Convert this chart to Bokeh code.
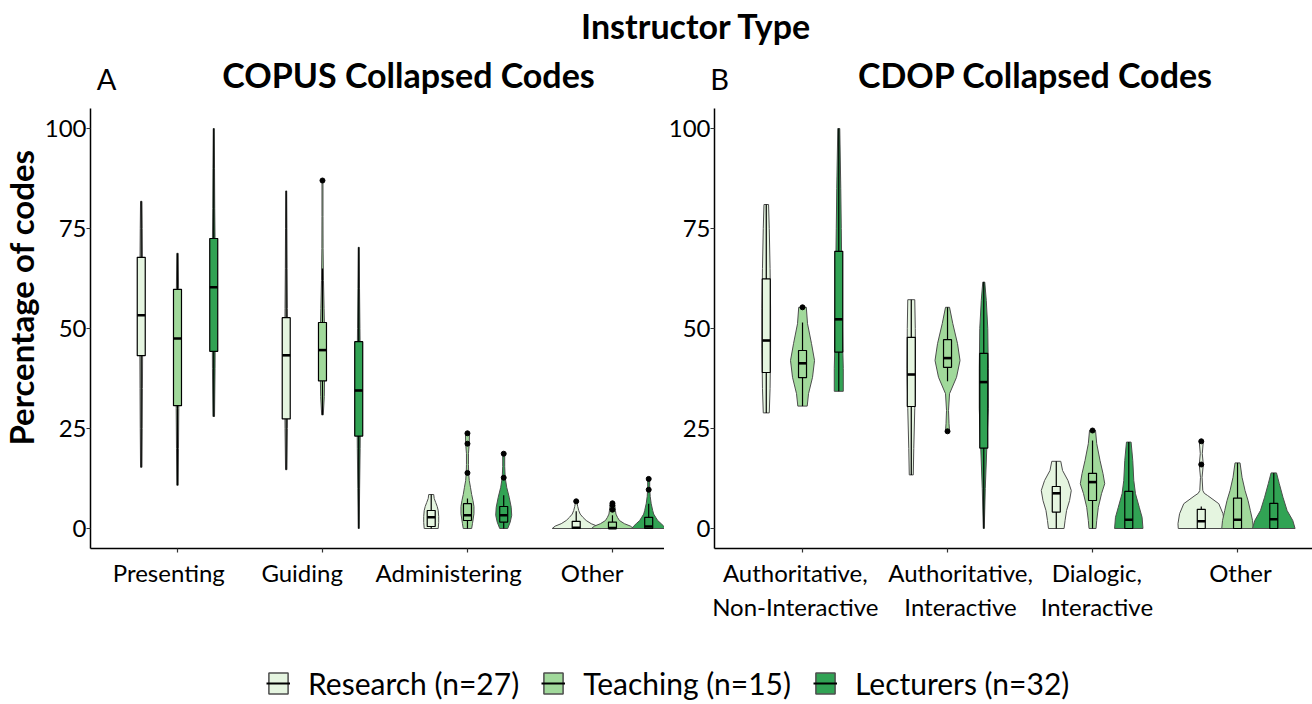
import math
from bokeh.plotting import figure
from bokeh.models import Range1d, FixedTicker, Label, Legend, LegendItem, LinearAxis
from bokeh.layouts import column, row
from bokeh.embed import file_html
from bokeh.resources import INLINE

FONT = "Lato"

# ---------------- data ----------------
instructors = ["Research (n=27)", "Teaching (n=15)", "Lecturers (n=32)"]
fill_colors = ["#e5f5e0", "#a1d99b", "#31a354"]

copus_categories = ["Presenting", "Guiding", "Administering", "Other"]
cdop_categories = ["Authoritative,\nNon-Interactive", "Authoritative,\nInteractive",
                   "Dialogic,\nInteractive", "Other"]
y_ticks = [0, 25, 50, 75, 100]

# box statistics per [category][instructor]: (lower whisker, Q1, median, Q3, upper whisker)
copus_box = [
    [(15.3, 43.2, 53.3, 67.8, 81.8), (10.8, 30.7, 47.5, 59.8, 68.8), (28.0, 44.3, 60.3, 72.5, 100.0)],
    [(14.7, 27.4, 43.3, 52.7, 84.4), (28.4, 36.9, 44.6, 51.5, 65.0), (0.0, 23.1, 34.5, 46.7, 70.3)],
    [(0.0, 0.5, 2.8, 4.5, 8.5), (0.0, 2.0, 3.3, 6.2, 7.5), (0.0, 1.6, 3.3, 5.5, 8.3)],
    [(0.0, 0.0, 0.2, 1.8, 4.3), (0.0, 0.0, 0.1, 1.6, 3.3), (0.0, 0.0, 0.5, 2.8, 6.2)],
]
copus_outliers = [
    [[], [], []],
    [[], [87.0], []],
    [[], [13.9, 21.2, 23.8], [12.7, 18.7]],
    [[6.8], [4.7, 5.8, 6.3], [9.7, 12.4]],
]
# violin profiles: values and kernel-density half widths
copus_violin_y = [
    [[15.3, 25, 35, 45, 55, 65, 75, 81.8], [10.8, 20, 30, 40, 50, 60, 68.8], [28, 40, 50, 60, 70, 80, 90, 100]],
    [[14.7, 25, 35, 45, 55, 65, 75, 84.4], [28.4, 33, 40, 47, 55, 62, 70, 78, 87], [0, 10, 20, 30, 40, 50, 60, 70.3]],
    [[0, 1.5, 3, 4.5, 5.5, 6.5, 7.5, 8.5],
     [0, 1.2, 3.7, 5.5, 7, 8.5, 10.3, 12, 13.9, 16, 18.7, 21.2, 23.8],
     [0, 1.6, 3.3, 5.3, 7.8, 10.3, 12.7, 15.5, 18.7]],
    [[0, 0.6, 1.2, 2, 2.8, 3.6, 4.5, 5.5, 6.2, 6.8],
     [0, 0.6, 1.2, 2, 2.8, 3.6, 4.5, 5.5, 6.6],
     [0, 0.6, 1.2, 2, 2.8, 3.6, 4.5, 6.2, 8, 10, 12.4]],
]
copus_violin_d = [
    [[0.7, 1.0, 1.2, 1.4, 1.4, 1.3, 1.0, 0.7], [0.7, 1.0, 1.3, 1.4, 1.4, 1.1, 0.7], [0.8, 1.3, 1.5, 1.6, 1.4, 1.0, 0.8, 0.5]],
    [[0.7, 1.2, 1.5, 1.5, 1.2, 0.9, 0.7, 0.5], [0.8, 1.8, 2.3, 2.3, 1.6, 1.0, 0.6, 0.5, 0.5], [0.5, 0.9, 1.4, 1.7, 1.6, 1.2, 0.8, 0.5]],
    [[7.0, 7.5, 7.5, 7.0, 6.0, 4.5, 3.0, 2.5],
     [4.2, 5.0, 6.5, 6.5, 5.5, 4.2, 3.0, 1.8, 1.2, 1.0, 1.0, 1.8, 2.0],
     [4.0, 6.5, 8.0, 7.5, 5.5, 3.0, 1.5, 1.0, 1.0]],
    [[24, 21, 15, 10, 6.7, 4.0, 2.5, 1.5, 1.0, 1.5],
     [21, 18, 12, 7, 5, 3.5, 3.0, 2.5, 1.5],
     [17, 15, 12.5, 9, 7, 5, 4, 2.5, 1.5, 1.0, 1.0]],
]

cdop_box = [
    [(28.9, 39.0, 47.0, 62.4, 81.0), (30.6, 37.7, 41.3, 44.5, 51.5), (34.3, 44.1, 52.3, 69.3, 100.0)],
    [(13.4, 30.5, 38.5, 47.8, 57.2), (36.8, 40.3, 42.6, 47.2, 55.3), (0.0, 20.1, 36.6, 43.8, 61.6)],
    [(0.0, 4.1, 8.8, 10.5, 16.8), (0.0, 7.0, 11.6, 13.8, 22.0), (0.0, 0.0, 2.2, 9.3, 21.6)],
    [(0.0, 0.0, 1.8, 4.8, 5.5), (0.0, 0.0, 2.2, 7.6, 16.4), (0.0, 0.0, 2.3, 6.3, 13.9)],
]
cdop_outliers = [
    [[], [55.3], []],
    [[], [24.3], []],
    [[], [24.5], []],
    [[16.0, 21.8], [], []],
]
cdop_violin_y = [
    [[28.9, 35, 45, 55, 65, 75, 81], [30.6, 33.7, 37.8, 42, 46.2, 51.2, 55.3], [34.3, 40, 45, 55, 65, 75, 85, 100]],
    [[13.4, 20, 30, 40, 50, 57.2], [24.3, 26.2, 29.5, 33.7, 37.8, 42, 46.2, 51.2, 55.3], [0, 10, 20, 30, 40, 50, 57, 61.6]],
    [[0, 2, 4.5, 7, 9.5, 12, 14.5, 16.8], [0, 2, 5.3, 8.7, 11.2, 13.7, 17, 21.2, 24.5], [0, 2.8, 5.3, 8.7, 12, 17, 21.6]],
    [[0, 1.2, 3.7, 6.2, 8.25, 8.8, 9.5, 12.8, 16, 18.7, 21.75], [0, 2, 4.5, 7, 9.5, 12.8, 16.4], [0, 2, 4.5, 7.8, 11.2, 13.9]],
]
cdop_violin_d = [
    [[3.0, 3.8, 4.3, 4.3, 3.8, 3.0, 2.3], [4.7, 6, 10, 12, 9, 5, 3.8], [4.5, 4.5, 4.0, 3.5, 3.0, 2.5, 2.0, 1.0]],
    [[2.0, 2.5, 3.5, 4.2, 4.0, 3.5], [2.0, 1.5, 1.0, 2.0, 9.0, 12.5, 10.0, 5.3, 2.0], [0.5, 1.5, 3.0, 4.5, 4.5, 4.0, 2.5, 1.0]],
    [[7.8, 8.8, 10.3, 13.3, 15, 11.7, 6.3, 4.5], [3.5, 4.2, 5.8, 9, 12.2, 10.5, 7.5, 4.2, 3.0], [14.2, 13.3, 10.5, 6.7, 5, 4, 2.3]],
    [[23, 23.3, 21.7, 17.5, 6.3, 3, 1.5, 0.8, 2, 1, 2], [15.8, 15, 12.8, 10.5, 7.5, 4.5, 2.5], [21.3, 19, 13.3, 9.2, 5.5, 2.7]],
]

# where the category labels sit along each axis (they are slightly off their ticks in the reference)
copus_label_pos = [0.94, 1.86, 2.87, 3.86]
cdop_label_pos = [0.95, 2.09, 3.03, 4.02]

# ---------------- styling ----------------
DODGE = [-0.25, 0.0, 0.25]
DENS_SCALE = 1.0 / 145.0      # density half width -> category units
BOX_HALF = 4.0 / 145.0
VIOLIN_LINE = "#4d4d4d"
ROW_H = 530


def style_axes(p, categories, label_pos):
    p.grid.visible = False
    p.outline_line_color = None
    xa = p.xaxis[0]
    xa.ticker = FixedTicker(ticks=[1, 2, 3, 4])
    xa.major_label_overrides = {1: "", 2: "", 3: "", 4: ""}
    xa.major_label_text_font_size = "2px"
    xa.major_label_standoff = 0
    ya = p.yaxis[0]
    ya.ticker = FixedTicker(ticks=y_ticks)
    ya.bounds = (-5, 105)
    ya.axis_label_standoff = 0
    for ax in (xa, ya):
        ax.axis_line_color = "black"
        ax.axis_line_width = 1.5
        ax.major_tick_line_color = "#333333"
        ax.major_tick_line_width = 1.2
        ax.major_tick_out = 4
        ax.major_tick_in = 0
        ax.minor_tick_line_color = None
    ya.major_label_text_font = FONT
    ya.major_label_text_color = "black"
    ya.major_label_text_font_size = "24px"
    ya.major_label_standoff = 0
    lab = LinearAxis(ticker=FixedTicker(ticks=label_pos),
                     major_label_overrides={pos: c for pos, c in zip(label_pos, categories)},
                     axis_line_color=None, major_tick_line_color=None, minor_tick_line_color=None,
                     major_tick_out=0, major_tick_in=0, major_label_standoff=5,
                     major_label_text_font=FONT, major_label_text_font_size="24px",
                     major_label_text_color="black")
    p.add_layout(lab, "below")


def draw_panel(p, box, outliers, vy, vd):
    for i in range(3):
        xs, ys = [], []
        for c in range(4):
            cx = c + 1 + DODGE[i]
            yy = vy[c][i]
            dd = vd[c][i]
            right = [cx + d * DENS_SCALE for d in dd]
            left = [cx - d * DENS_SCALE for d in dd]
            xs.append(right + left[::-1])
            ys.append(list(yy) + list(yy)[::-1])
        p.patches(xs=xs, ys=ys, fill_color=fill_colors[i], line_color=VIOLIN_LINE, line_width=1)
    for i in range(3):
        cxs = [c + 1 + DODGE[i] for c in range(4)]
        lo = [box[c][i][0] for c in range(4)]
        q1 = [box[c][i][1] for c in range(4)]
        med = [box[c][i][2] for c in range(4)]
        q3 = [box[c][i][3] for c in range(4)]
        hi = [box[c][i][4] for c in range(4)]
        p.segment(x0=cxs, y0=q3, x1=cxs, y1=hi, line_color="black", line_width=1.2)
        p.segment(x0=cxs, y0=lo, x1=cxs, y1=q1, line_color="black", line_width=1.2)
        p.quad(left=[x - BOX_HALF for x in cxs], right=[x + BOX_HALF for x in cxs],
               bottom=q1, top=q3, fill_color=fill_colors[i], line_color="black", line_width=1.2)
        p.segment(x0=[x - BOX_HALF for x in cxs], y0=med, x1=[x + BOX_HALF for x in cxs], y1=med,
                  line_color="black", line_width=2.6)
        ox, oy = [], []
        for c in range(4):
            for v in outliers[c][i]:
                ox.append(cxs[c])
                oy.append(v)
        if ox:
            p.scatter(x=ox, y=oy, marker="circle", size=5, fill_color="black", line_color="black")


def blank(width, height, xr, yr):
    f = figure(width=width, height=height, x_range=Range1d(*xr), y_range=Range1d(*yr),
               output_backend="svg", toolbar_location=None, min_border=0,
               x_axis_location=None, y_axis_location=None)
    f.grid.visible = False
    f.outline_line_color = None
    return f


def text_label(x, y, text, size, bold=False, angle=0.0):
    return Label(x=x, y=y, text=text, angle=angle, text_font=FONT, text_font_size=size,
                 text_font_style="bold" if bold else "normal", text_align="center",
                 text_baseline="middle", text_color="black")


common = dict(height=ROW_H, y_range=Range1d(-5, 107), output_backend="svg", toolbar_location=None,
              min_border_top=0, min_border_bottom=82)

# header with overall title and panel titles (page-pixel coordinates)
header = blank(1312, 100, (0, 1312), (100, 0))
header.add_layout(text_label(696, 25, "Instructor Type", "34px", bold=True))
header.add_layout(text_label(106, 78, "A", "29px"))
header.add_layout(text_label(408, 74, "COPUS Collapsed Codes", "34px", bold=True))
header.add_layout(text_label(719, 78, "B", "29px"))
header.add_layout(text_label(1035, 74, "CDOP Collapsed Codes", "34px", bold=True))

# y-axis title strip
ylab = blank(40, ROW_H, (0, 40), (630, 100))
ylab.add_layout(text_label(20, 333, "Percentage of codes", "33px", bold=True, angle=math.pi / 2))

pa = figure(width=624, x_range=Range1d(0.4, 4.359), min_border_left=50, min_border_right=0, **common)
style_axes(pa, copus_categories, copus_label_pos)
draw_panel(pa, copus_box, copus_outliers, copus_violin_y, copus_violin_d)

pb = figure(width=648, x_range=Range1d(0.393, 4.517), min_border_left=50, min_border_right=0, **common)
style_axes(pb, cdop_categories, cdop_label_pos)
draw_panel(pb, cdop_box, cdop_outliers, cdop_violin_y, cdop_violin_d)

# footer legend (keys are drawn from off-screen proxy glyphs)
footer = blank(1312, 74, (0, 1), (0, 1))
items = []
for name, col in zip(instructors, fill_colors):
    r1 = footer.rect(x=[-5], y=[-5], width=0.01, height=0.01, fill_color=col, line_color="#4d4d4d", line_width=1.5)
    r2 = footer.segment(x0=[-5], y0=[-5], x1=[-4], y1=[-5], line_color="black", line_width=2)
    items.append(LegendItem(label=name, renderers=[r1, r2]))
legend = Legend(items=items, orientation="horizontal", location=(266, 3),
                label_text_font=FONT, label_text_font_size="30px", label_text_color="black",
                glyph_width=24, glyph_height=26, label_standoff=18, spacing=22,
                padding=0, margin=0, border_line_color=None, background_fill_alpha=0)
footer.add_layout(legend, "center")

layout = column(header, row(ylab, pa, pb), footer)

with open("out.html", "w") as f:
    f.write(file_html(layout, INLINE))
